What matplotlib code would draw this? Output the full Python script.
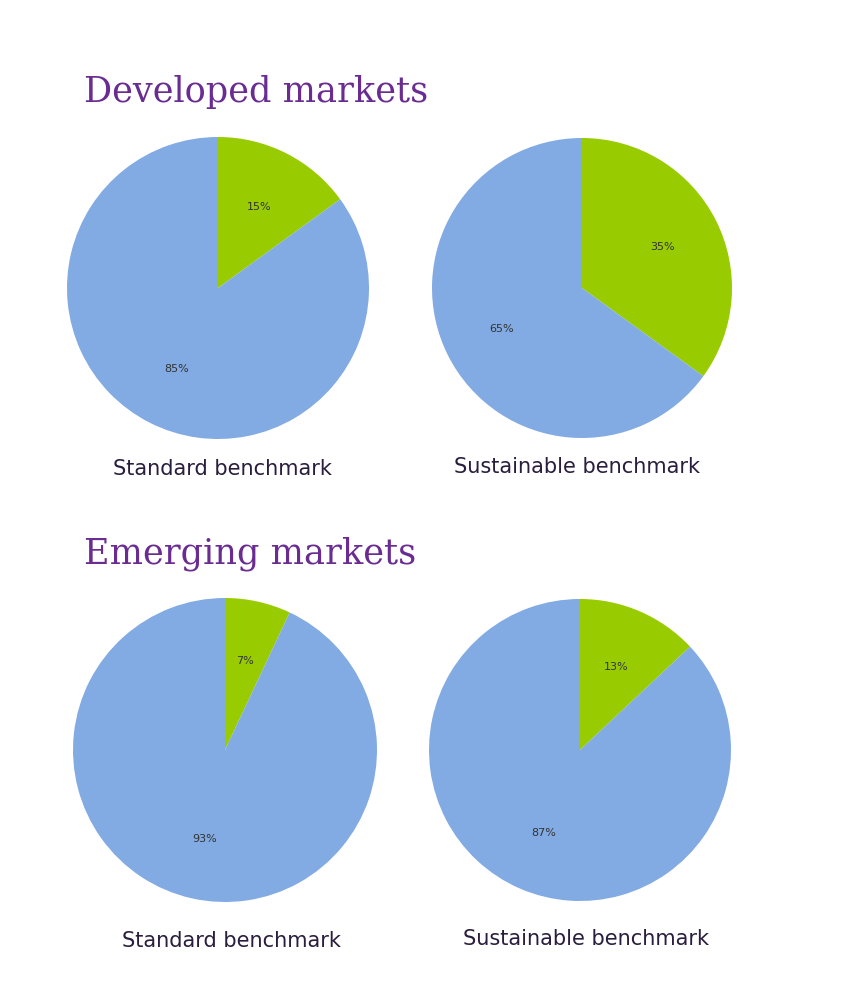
import matplotlib.pyplot as plt

W, H = 845, 1000

groups = ['Developed markets', 'Emerging markets']
benchmarks = ['Standard benchmark', 'Sustainable benchmark']
# green share, blue share per pie
shares = [[[15, 85], [35, 65]],
          [[7, 93], [13, 87]]]

colors = ['#99cc00', '#82aae3']
purple = '#6a2c91'
dark = '#2b1d3d'

# pie centres / radius in pixels
centres = [[(218, 288, 151), (582, 288, 150)],
           [(225, 750, 152), (580, 750, 151)]]
title_y = [92, 554]
label_pos = [[(222, 469), (577, 467)], [(231, 941), (586, 939)]]

fig = plt.figure(figsize=(W / 100, H / 100), dpi=100)


def px(x, y):
    return x / W, 1 - y / H


for g, name in enumerate(groups):
    fig.text(*px(84, title_y[g]), name, fontsize=25.3, color=purple,
             family='DejaVu Serif', va='center', ha='left')
    for b, bench in enumerate(benchmarks):
        cx, cy, r = centres[g][b]
        ax = fig.add_axes([(cx - r) / W, (H - cy - r) / H, 2 * r / W, 2 * r / H])
        ax.pie(shares[g][b], colors=colors, startangle=90, counterclock=False,
               autopct='%1.0f%%', pctdistance=0.6,
               textprops={'fontsize': 8, 'color': '#333333'})
        ax.set_xlim(-1, 1)
        ax.set_ylim(-1, 1)
        ax.axis('off')
        fig.text(*px(*label_pos[g][b]), bench, fontsize=15, color=dark,
                 ha='center', va='center')

fig.savefig('out.png', dpi=100)
